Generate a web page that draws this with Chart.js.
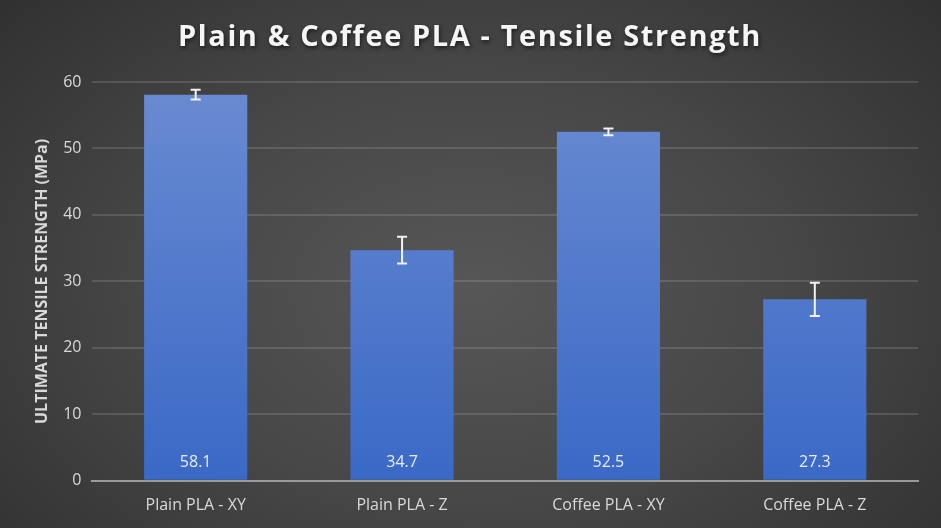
<!DOCTYPE html>
<html>
<head>
<meta charset="utf-8">
<script src="https://cdn.jsdelivr.net/npm/chart.js@4.4.1/dist/chart.umd.min.js"></script>
<style>
  html, body { margin: 0; padding: 0; }
  body {
    width: 941px; height: 528px; overflow: hidden;
    background: radial-gradient(ellipse 75% 90% at 50% 55%, #575757 0%, #474747 45%, #2c2c2c 100%);
  }
  #wrap { position: relative; width: 941px; height: 528px; }
</style>
</head>
<body>
<div id="wrap"><canvas id="chart"></canvas></div>
<script>
// 데이터
const categories = ['Plain PLA - XY', 'Plain PLA - Z', 'Coffee PLA - XY', 'Coffee PLA - Z'];
const strengthValues = [58.1, 34.7, 52.5, 27.3];
const errorValues = [0.75, 2.0, 0.5, 2.5];
const yTicks = [0, 10, 20, 30, 40, 50, 60];

const FONT = "'Open Sans', 'Noto Sans', sans-serif";

// 막대 그라데이션 (위쪽 밝게, 아래쪽 진하게)
function barGradient(context) {
    const chart = context.chart;
    const area = chart.chartArea;
    if (!area) return '#4f78cc';
    const g = chart.ctx.createLinearGradient(0, area.top, 0, area.bottom);
    g.addColorStop(0, '#6a8bd1');
    g.addColorStop(1, '#3a69c6');
    return g;
}

// 오차 막대 플러그인
const errorBarPlugin = {
    id: 'errorBars',
    afterDatasetsDraw(chart) {
        const ctx = chart.ctx;
        const y = chart.scales.y;
        const meta = chart.getDatasetMeta(0);
        ctx.save();
        ctx.strokeStyle = '#f2f2f2';
        ctx.lineWidth = 2;
        meta.data.forEach((bar, i) => {
            const v = strengthValues[i];
            const e = errorValues[i];
            const top = y.getPixelForValue(v + e);
            const bot = y.getPixelForValue(v - e);
            const x = bar.x;
            ctx.beginPath();
            ctx.moveTo(x, top); ctx.lineTo(x, bot);
            ctx.moveTo(x - 5, top); ctx.lineTo(x + 5, top);
            ctx.moveTo(x - 5, bot); ctx.lineTo(x + 5, bot);
            ctx.stroke();
        });
        ctx.restore();
    }
};

// 값 라벨 (막대 안쪽 아래)
const valueLabelPlugin = {
    id: 'valueLabels',
    afterDatasetsDraw(chart) {
        const ctx = chart.ctx;
        const meta = chart.getDatasetMeta(0);
        ctx.save();
        ctx.fillStyle = '#e8ecf5';
        ctx.font = '16px ' + FONT;
        ctx.textAlign = 'center';
        ctx.textBaseline = 'middle';
        meta.data.forEach((bar, i) => {
            ctx.fillText(strengthValues[i].toFixed(1), bar.x, bar.base - 17);
        });
        ctx.restore();
    }
};

// 제목 (자간 + 그림자)
const titlePlugin = {
    id: 'spacedTitle',
    afterDraw(chart) {
        const ctx = chart.ctx;
        ctx.save();
        ctx.font = 'bold 29px ' + FONT;
        ctx.letterSpacing = '1.6px';
        ctx.textAlign = 'center';
        ctx.textBaseline = 'middle';
        ctx.shadowColor = 'rgba(0,0,0,0.6)';
        ctx.shadowBlur = 4;
        ctx.shadowOffsetX = 1;
        ctx.shadowOffsetY = 2;
        ctx.fillStyle = '#f5f5f5';
        ctx.fillText('Plain & Coffee PLA - Tensile Strength', 470, 38);
        ctx.restore();
    }
};

const ctx = document.getElementById('chart').getContext('2d');
new Chart(ctx, {
    type: 'bar',
    data: {
        labels: categories,
        datasets: [{
            data: strengthValues,
            backgroundColor: barGradient,
            borderWidth: 0,
            barPercentage: 0.5,
            categoryPercentage: 1.0
        }]
    },
    options: {
        responsive: true,
        maintainAspectRatio: false,
        animation: false,
        layout: { padding: { top: 82, right: 23, left: 24, bottom: -2 } },
        plugins: {
            legend: { display: false },
            tooltip: { enabled: false },
            title: { display: false }
        },
        scales: {
            x: {
                grid: { display: false, drawTicks: false },
                border: { display: true, color: '#9a9a9a', width: 2 },
                ticks: {
                    color: '#d9d9d9',
                    font: { family: FONT, size: 16 },
                    padding: 15
                }
            },
            y: {
                min: 0,
                max: 60,
                afterBuildTicks(axis) {
                    axis.ticks = yTicks.map(v => ({ value: v }));
                },
                grid: {
                    color: ctx2 => ctx2.tick && ctx2.tick.value === 0 ? 'rgba(0,0,0,0)' : 'rgba(255,255,255,0.13)',
                    lineWidth: 2,
                    drawTicks: false
                },
                border: { display: false },
                ticks: {
                    color: '#d9d9d9',
                    font: { family: FONT, size: 16 },
                    padding: 11
                },
                title: {
                    display: true,
                    text: 'ULTIMATE TENSILE STRENGTH (MPa)',
                    color: '#d9d9d9',
                    font: { family: FONT, size: 16, weight: 'bold' },
                    padding: { top: 9, bottom: 0 }
                }
            }
        }
    },
    plugins: [errorBarPlugin, valueLabelPlugin, titlePlugin]
});
</script>
</body>
</html>
